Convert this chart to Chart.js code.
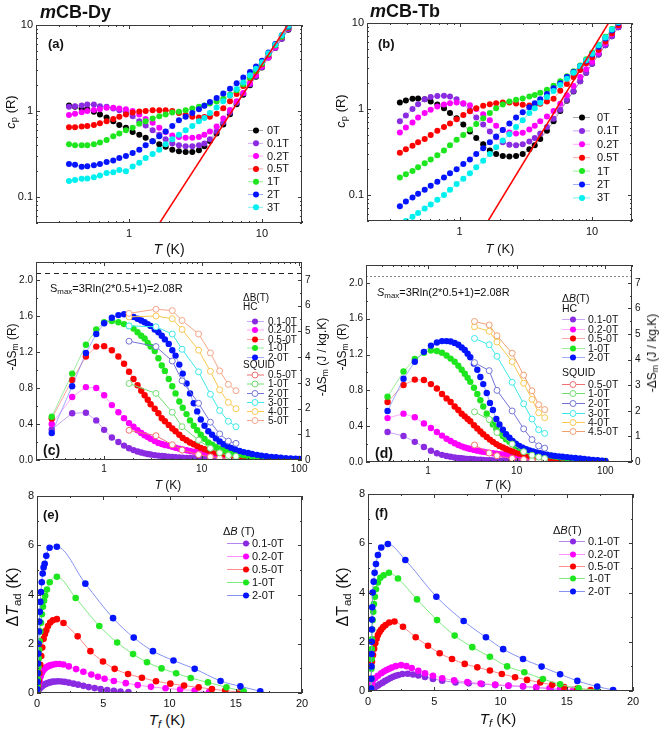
<!DOCTYPE html>
<html>
<head>
<meta charset="utf-8">
<script src="https://cdn.jsdelivr.net/npm/chart.js@4.4.1/dist/chart.umd.min.js"></script>
<style>
  body { margin: 0; background: #fff; width: 661px; height: 731px; position: relative; overflow: hidden;
         font-family: "Liberation Sans", Arial, sans-serif; color: #111; }
  canvas { position: absolute; }
  .t { position: absolute; white-space: nowrap; line-height: 1; }
  .c { transform: translate(-50%, -50%); }
  .r { transform: translate(-50%, -50%) rotate(-90deg); }
  sub { font-size: 72%; vertical-align: -0.28em; line-height: 0; }
  .ttl { font-size: 18px; font-weight: bold; }
  .lab { font-weight: bold; font-size: 13px; }
</style>
</head>
<body>
<canvas id="pa" width="330" height="240" style="left:0;top:0"></canvas>
<canvas id="pb" width="331" height="240" style="left:330px;top:0"></canvas>
<canvas id="pc" width="330" height="235" style="left:0;top:240px"></canvas>
<canvas id="pd" width="331" height="235" style="left:330px;top:240px"></canvas>
<canvas id="pe" width="330" height="235" style="left:0;top:475px"></canvas>
<canvas id="pf" width="331" height="235" style="left:330px;top:475px"></canvas>

<div class="t ttl" style="left:40px;top:3px"><i>m</i>CB-Dy</div>
<div class="t ttl" style="left:370px;top:2px"><i>m</i>CB-Tb</div>

<div class="t lab" style="left:48px;top:37px">(a)</div>
<div class="t lab" style="left:378px;top:37px">(b)</div>
<div class="t lab" style="left:43px;top:443px;font-size:14px">(c)</div>
<div class="t lab" style="left:375px;top:446px;font-size:14px">(d)</div>
<div class="t lab" style="left:43px;top:508px">(e)</div>
<div class="t lab" style="left:375px;top:506px">(f)</div>

<div class="t r" style="left:10px;top:112px;font-size:13px"><i>c</i><sub>p</sub> (R)</div>
<div class="t c" style="left:169px;top:249px;font-size:14px"><i>T</i> (K)</div>
<div class="t r" style="left:340px;top:111px;font-size:13px"><i>c</i><sub>p</sub> (R)</div>
<div class="t c" style="left:500px;top:248px;font-size:13px"><i>T</i> (K)</div>

<div class="t r" style="left:12px;top:347px;font-size:12px">-ΔS<sub>m</sub> (R)</div>
<div class="t r" style="left:322px;top:357px;font-size:12px">-ΔS<sub>m</sub> (J / kg.K)</div>
<div class="t c" style="left:168px;top:485px;font-size:12px"><i>T</i> (K)</div>
<div class="t r" style="left:342px;top:347px;font-size:12px">-ΔS<sub>m</sub> (R)</div>
<div class="t r" style="left:652px;top:353px;font-size:12px">-ΔS<sub>m</sub> (J / kg.K)</div>
<div class="t c" style="left:498px;top:485px;font-size:12px"><i>T</i> (K)</div>

<div class="t" style="left:50px;top:283px;font-size:11px">S<sub>max</sub>=3Rln(2*0.5+1)=2.08R</div>
<div class="t" style="left:377px;top:287px;font-size:11px"><i>S</i><sub>max</sub>=3Rln(2*0.5+1)=2.08R</div>

<div class="t r" style="left:13px;top:597px;font-size:16px">Δ<i>T</i><sub>ad</sub> (K)</div>
<div class="t c" style="left:167px;top:719px;font-size:15px"><i>T</i><sub><i>f</i></sub> (K)</div>
<div class="t r" style="left:343px;top:597px;font-size:16px">ΔT<sub>ad</sub> (K)</div>
<div class="t c" style="left:498px;top:718px;font-size:15px"><i>T</i><sub><i>f</i></sub> (K)</div>

<script>
// ---- (a)/(b) heat capacity, shared temperature grid (K) ----
const tCp = [0.354, 0.393, 0.441, 0.486, 0.545, 0.605, 0.679, 0.762, 0.846, 0.949, 1.066, 1.196, 1.335, 1.506,
  1.691, 1.887, 2.117, 2.375, 2.668, 2.994, 3.36, 3.69, 4.06, 4.56, 5.12, 5.75, 6.45, 7.24, 8.13, 9.02, 10.0,
  11.2, 12.6, 14.1, 15.8];

const cpDy0T = [1.16, 1.12, 1.06, 1.04, 0.98, 0.91, 0.84, 0.76, 0.69, 0.64, 0.57, 0.53, 0.49, 0.445, 0.41, 0.385,
  0.355, 0.34, 0.335, 0.335, 0.35, 0.39, 0.45, 0.55, 0.70, 0.92, 1.2, 1.55, 2.0, 2.5, 3.2, 4.2, 5.4, 6.9, 8.8];
const cpDy01T = [1.12, 1.14, 1.16, 1.19, 1.19, 1.14, 1.12, 1.07, 1.02, 0.96, 0.87, 0.76, 0.68, 0.60, 0.53, 0.47,
  0.42, 0.40, 0.39, 0.39, 0.40, 0.42, 0.47, 0.58, 0.74, 0.96, 1.25, 1.6, 2.05, 2.55, 3.25, 4.2, 5.4, 6.9, 8.9];
const cpDy02T = [0.90, 0.93, 0.97, 1.0, 1.03, 1.05, 1.09, 1.09, 1.07, 1.05, 1.0, 0.91, 0.81, 0.73, 0.64, 0.57,
  0.52, 0.50, 0.49, 0.49, 0.50, 0.53, 0.58, 0.66, 0.82, 1.03, 1.3, 1.62, 2.1, 2.6, 3.3, 4.2, 5.5, 7.2, 9.2];
const cpDy05T = [0.65, 0.65, 0.66, 0.67, 0.69, 0.72, 0.76, 0.81, 0.86, 0.91, 0.96, 0.99, 1.0, 1.02, 1.02, 1.02,
  1.0, 0.95, 0.90, 0.86, 0.84, 0.85, 0.86, 0.93, 1.08, 1.3, 1.58, 1.95, 2.4, 2.9, 3.5, 4.5, 5.8, 7.3, 9.3];
const cpDy1T = [0.41, 0.40, 0.40, 0.40, 0.41, 0.43, 0.46, 0.51, 0.55, 0.60, 0.64, 0.71, 0.76, 0.82, 0.87, 0.91,
  0.96, 0.98, 1.02, 1.07, 1.12, 1.16, 1.22, 1.29, 1.39, 1.55, 1.75, 2.05, 2.46, 2.9, 3.55, 4.6, 5.8, 7.3, 9.4];
const cpDy2T = [0.243, 0.237, 0.226, 0.228, 0.235, 0.243, 0.255, 0.267, 0.284, 0.30, 0.325, 0.355, 0.40, 0.445,
  0.51, 0.58, 0.67, 0.78, 0.86, 0.95, 1.05, 1.15, 1.27, 1.42, 1.6, 1.82, 2.1, 2.45, 2.85, 3.3, 3.85, 4.8, 6.0, 7.6, 9.6];
const cpDy3T = [0.154, 0.158, 0.163, 0.165, 0.17, 0.178, 0.19, 0.195, 0.207, 0.20, 0.227, 0.25, 0.284, 0.316,
  0.355, 0.41, 0.47, 0.53, 0.60, 0.67, 0.76, 0.83, 0.95, 1.1, 1.3, 1.52, 1.8, 2.15, 2.6, 3.1, 3.7, 4.7, 5.9, 7.6, 9.8];

const cpTb0T = [1.19, 1.26, 1.32, 1.33, 1.30, 1.22, 1.13, 1.02, 0.90, 0.78, 0.66, 0.55, 0.46, 0.39, 0.33, 0.30,
  0.285, 0.28, 0.285, 0.30, 0.34, 0.38, 0.45, 0.56, 0.72, 0.95, 1.25, 1.6, 2.1, 2.65, 3.35, 4.3, 5.5, 7.0, 8.9];
const cpTb01T = [0.72, 0.84, 1.0, 1.14, 1.30, 1.38, 1.42, 1.43, 1.40, 1.30, 1.15, 0.97, 0.80, 0.66, 0.55, 0.47,
  0.41, 0.385, 0.38, 0.39, 0.42, 0.46, 0.52, 0.62, 0.77, 0.98, 1.27, 1.62, 2.1, 2.65, 3.35, 4.3, 5.5, 7.0, 8.9];
const cpTb02T = [0.535, 0.61, 0.70, 0.80, 0.90, 0.98, 1.07, 1.13, 1.17, 1.19, 1.17, 1.11, 1.0, 0.87, 0.74, 0.64,
  0.57, 0.535, 0.52, 0.53, 0.58, 0.64, 0.72, 0.82, 0.95, 1.15, 1.45, 1.85, 2.35, 2.9, 3.55, 4.5, 5.8, 7.4, 9.3];
const cpTb05T = [0.31, 0.34, 0.375, 0.41, 0.45, 0.50, 0.56, 0.62, 0.68, 0.76, 0.85, 0.94, 1.02, 1.09, 1.14, 1.17,
  1.19, 1.19, 1.16, 1.12, 1.10, 1.12, 1.15, 1.22, 1.32, 1.63, 1.95, 2.35, 2.85, 3.4, 4.0, 4.9, 6.1, 7.6, 9.4];
const cpTb1T = [0.16, 0.175, 0.19, 0.21, 0.235, 0.26, 0.29, 0.33, 0.38, 0.44, 0.50, 0.58, 0.67, 0.78, 0.90, 1.02,
  1.13, 1.22, 1.28, 1.33, 1.40, 1.46, 1.55, 1.68, 1.87, 2.1, 2.4, 2.75, 3.2, 3.8, 4.5, 5.6, 6.9, 8.5, 10.3];
const cpTb2T = [0.074, 0.084, 0.094, 0.104, 0.115, 0.128, 0.143, 0.16, 0.18, 0.20, 0.23, 0.26, 0.30, 0.35, 0.41,
  0.48, 0.57, 0.68, 0.80, 0.92, 1.05, 1.17, 1.30, 1.5, 1.75, 2.0, 2.35, 2.7, 3.15, 3.65, 4.3, 5.3, 6.6, 8.2, 10.0];
const cpTb3T = [0.045, 0.05, 0.056, 0.062, 0.07, 0.078, 0.088, 0.10, 0.115, 0.135, 0.155, 0.18, 0.21, 0.25, 0.30,
  0.36, 0.43, 0.51, 0.62, 0.74, 0.9, 1.02, 1.18, 1.38, 1.62, 1.9, 2.25, 2.65, 3.15, 3.7, 4.4, 5.5, 6.8, 8.4, 10.2];

// lattice contribution c_L (end points of the straight line on log-log axes)
const tLatDy = [1.7, 15.8];
const cLatDy = [0.05, 10.3];
const tLatTb = [1.64, 13.3];
const cLatTb = [0.05, 10.0];

// ---- (c)/(d) entropy change from heat capacity ----
const tHcDy = [0.29, 0.47, 0.65, 0.83, 1.0, 1.2, 1.4, 1.6, 1.8, 2.0, 2.2, 2.4, 2.6, 2.8, 3.0, 3.3, 3.6, 3.9, 4.2,
  4.6, 5.0, 5.4, 5.9, 6.4, 7.0, 7.6, 8.3, 9.0, 9.8, 10.7, 11.7, 12.8, 14, 15.3, 16.8, 18.4, 20, 22, 24.5, 27, 30,
  33, 37, 41, 46, 52, 58, 65, 73, 82, 92, 100];
const dsDy01 = [0.34, 0.52, 0.525, 0.44, 0.335, 0.25, 0.20, 0.16, 0.13, 0.11, 0.095, 0.083, 0.074, 0.067, 0.061,
  0.054, 0.049, 0.045, 0.041, 0.037, 0.034, 0.031, 0.028, 0.026, 0.024, 0.022, 0.02, 0.018, 0.017, 0.015, 0.014,
  0.013, 0.012, 0.011, 0.01, 0.009, 0.008, 0.007, 0.006, 0.005, 0.005, 0.004, 0.004, 0.003, 0.003, 0.002, 0.002,
  0.002, 0.001, 0.001, 0.001, 0.001];
const dsDy02 = [0.40, 0.70, 0.81, 0.80, 0.72, 0.61, 0.53, 0.465, 0.41, 0.37, 0.33, 0.30, 0.275, 0.255, 0.235, 0.21,
  0.19, 0.178, 0.167, 0.157, 0.146, 0.136, 0.126, 0.117, 0.108, 0.10, 0.093, 0.087, 0.082, 0.077, 0.072, 0.068,
  0.065, 0.061, 0.058, 0.055, 0.052, 0.048, 0.043, 0.038, 0.033, 0.029, 0.025, 0.021, 0.018, 0.015, 0.012, 0.01,
  0.008, 0.006, 0.005, 0.004];
const dsDy05 = [0.46, 0.89, 1.15, 1.26, 1.265, 1.22, 1.15, 1.07, 0.98, 0.90, 0.83, 0.77, 0.72, 0.67, 0.62, 0.57,
  0.52, 0.465, 0.43, 0.39, 0.35, 0.32, 0.28, 0.245, 0.22, 0.195, 0.175, 0.155, 0.135, 0.12, 0.105, 0.093, 0.083,
  0.073, 0.065, 0.058, 0.052, 0.046, 0.04, 0.035, 0.03, 0.026, 0.022, 0.019, 0.016, 0.013, 0.011, 0.009, 0.007,
  0.006, 0.005, 0.004];
const dsDy1 = [0.48, 0.96, 1.28, 1.45, 1.53, 1.545, 1.53, 1.51, 1.49, 1.46, 1.42, 1.38, 1.35, 1.30, 1.26, 1.21,
  1.13, 1.05, 0.99, 0.90, 0.82, 0.74, 0.65, 0.58, 0.51, 0.44, 0.38, 0.33, 0.28, 0.235, 0.195, 0.17, 0.145, 0.125,
  0.11, 0.095, 0.083, 0.072, 0.06, 0.052, 0.044, 0.037, 0.031, 0.026, 0.021, 0.017, 0.014, 0.011, 0.009, 0.007,
  0.006, 0.005];
const dsDy2 = [0.30, 0.82, 1.19, 1.40, 1.52, 1.58, 1.61, 1.62, 1.61, 1.59, 1.57, 1.55, 1.53, 1.51, 1.49, 1.45,
  1.42, 1.38, 1.34, 1.29, 1.22, 1.16, 1.06, 0.96, 0.85, 0.74, 0.63, 0.54, 0.45, 0.38, 0.32, 0.28, 0.24, 0.205,
  0.175, 0.155, 0.135, 0.12, 0.10, 0.088, 0.077, 0.067, 0.057, 0.049, 0.042, 0.035, 0.03, 0.025, 0.021, 0.017,
  0.014, 0.012];

const tHcTb = [0.35, 0.53, 0.71, 0.90, 1.08, 1.26, 1.44, 1.62, 1.8, 2.0, 2.2, 2.4, 2.6, 2.8, 3.0, 3.3, 3.6, 3.9,
  4.2, 4.6, 5.0, 5.4, 5.9, 6.4, 7.0, 7.6, 8.3, 9.0, 9.8, 10.7, 11.7, 12.8, 14, 15.3, 16.8, 18.4, 20, 22, 24.5, 27,
  30, 33, 37, 41, 46, 52, 58, 65, 73, 82, 92, 100];
const dsTb01 = [0.335, 0.29, 0.225, 0.168, 0.125, 0.098, 0.08, 0.067, 0.058, 0.051, 0.046, 0.042, 0.038, 0.035,
  0.033, 0.03, 0.027, 0.025, 0.023, 0.021, 0.019, 0.018, 0.016, 0.015, 0.014, 0.013, 0.012, 0.011, 0.01, 0.009,
  0.009, 0.008, 0.007, 0.007, 0.006, 0.006, 0.005, 0.005, 0.004, 0.004, 0.003, 0.003, 0.003, 0.002, 0.002, 0.002,
  0.002, 0.001, 0.001, 0.001, 0.001, 0.001];
const dsTb02 = [0.49, 0.54, 0.50, 0.43, 0.38, 0.335, 0.295, 0.26, 0.235, 0.21, 0.19, 0.175, 0.163, 0.153, 0.145,
  0.135, 0.127, 0.12, 0.114, 0.108, 0.102, 0.097, 0.092, 0.088, 0.083, 0.079, 0.075, 0.071, 0.067, 0.064, 0.06,
  0.057, 0.054, 0.051, 0.048, 0.045, 0.042, 0.039, 0.035, 0.032, 0.028, 0.025, 0.022, 0.019, 0.016, 0.014, 0.012,
  0.01, 0.008, 0.007, 0.006, 0.005];
const dsTb05 = [0.67, 0.86, 0.92, 0.915, 0.87, 0.82, 0.76, 0.71, 0.67, 0.62, 0.58, 0.54, 0.51, 0.48, 0.455, 0.41,
  0.375, 0.34, 0.31, 0.28, 0.25, 0.225, 0.20, 0.18, 0.162, 0.146, 0.13, 0.117, 0.105, 0.095, 0.086, 0.078, 0.071,
  0.065, 0.059, 0.054, 0.049, 0.045, 0.04, 0.036, 0.032, 0.028, 0.025, 0.022, 0.019, 0.016, 0.014, 0.012, 0.01,
  0.008, 0.007, 0.006];
const dsTb1 = [0.73, 1.01, 1.15, 1.22, 1.245, 1.24, 1.22, 1.19, 1.155, 1.12, 1.075, 1.03, 0.985, 0.94, 0.895,
  0.83, 0.76, 0.69, 0.62, 0.54, 0.47, 0.42, 0.37, 0.33, 0.29, 0.255, 0.225, 0.2, 0.18, 0.16, 0.143, 0.13, 0.118,
  0.107, 0.098, 0.09, 0.083, 0.076, 0.069, 0.062, 0.055, 0.049, 0.043, 0.038, 0.033, 0.028, 0.024, 0.02, 0.017,
  0.014, 0.012, 0.01];
const dsTb2 = [0.57, 0.93, 1.12, 1.23, 1.30, 1.335, 1.35, 1.35, 1.345, 1.33, 1.31, 1.28, 1.25, 1.21, 1.17, 1.10,
  1.03, 0.95, 0.87, 0.77, 0.66, 0.58, 0.48, 0.42, 0.36, 0.31, 0.27, 0.235, 0.205, 0.18, 0.16, 0.143, 0.13, 0.117,
  0.106, 0.097, 0.089, 0.081, 0.074, 0.068, 0.063, 0.059, 0.054, 0.049, 0.044, 0.039, 0.034, 0.029, 0.024, 0.019,
  0.015, 0.012];

// ---- (c)/(d) entropy change from magnetisation (SQUID) ----
const tSqDy = [1.8, 3.4, 5.0, 6.3, 9.3, 12.3, 15.3, 18.8, 22.5];
const sqDy05 = [0.33, 0.27, 0.17, 0.11, 0.06, 0.035, 0.02, 0.015, 0.01];
const sqDy1 = [0.85, 0.74, 0.53, 0.37, 0.22, 0.13, 0.08, 0.05, 0.04];
const sqDy2 = [1.32, 1.26, 1.10, 0.88, 0.63, 0.42, 0.29, 0.21, 0.185];
const sqDy3 = [1.49, 1.48, 1.40, 1.23, 0.98, 0.73, 0.55, 0.43, 0.37];
const sqDy4 = [1.59, 1.60, 1.57, 1.45, 1.22, 0.985, 0.78, 0.64, 0.57];
const sqDy5 = [1.63, 1.675, 1.66, 1.55, 1.40, 1.19, 0.99, 0.84, 0.77];

const tSqTb = [3.35, 4.9, 6.0, 8.9, 12.0, 14.9, 17.7, 20.7];
const sqTb05 = [0.19, 0.10, 0.07, 0.04, 0.027, 0.02, 0.015, 0.012];
const sqTb1 = [0.56, 0.475, 0.33, 0.20, 0.115, 0.075, 0.055, 0.04];
const sqTb2 = [1.11, 1.02, 0.80, 0.57, 0.37, 0.25, 0.18, 0.155];
const sqTb3 = [1.38, 1.31, 1.18, 0.89, 0.65, 0.48, 0.36, 0.32];
const sqTb4 = [1.51, 1.46, 1.34, 1.12, 0.88, 0.70, 0.55, 0.495];
const sqTb45 = [1.57, 1.53, 1.41, 1.215, 0.97, 0.795, 0.64, 0.585];

const SMAX = 2.08;          // 3R ln(2*0.5+1) in units of R
const R_TO_JKGK = 3.5;      // right-axis factor, J/kg.K per R

// ---- (e)/(f) adiabatic temperature change vs final temperature ----
const tfE01 = [0.05, 0.12, 0.2, 0.3, 0.4, 0.5, 0.62, 0.75, 0.9, 1.05, 1.2, 1.4, 1.6, 1.85, 2.1, 2.4, 2.75, 3.1,
  3.5, 3.9, 4.35, 4.8, 5.3, 5.8, 6.3, 6.9];
const dtE01 = [0.05, 0.12, 0.18, 0.23, 0.28, 0.32, 0.36, 0.39, 0.42, 0.44, 0.46, 0.47, 0.475, 0.47, 0.45, 0.42,
  0.38, 0.34, 0.29, 0.24, 0.2, 0.16, 0.12, 0.09, 0.06, 0.04];
const tfE02 = [0.05, 0.12, 0.2, 0.28, 0.38, 0.48, 0.6, 0.75, 0.9, 1.05, 1.25, 1.45, 1.7, 2.0, 2.4, 2.95, 3.5, 4.1,
  4.6, 5.1, 5.8, 6.7, 7.6, 8.6, 9.7, 10.8, 11.9, 13.0];
const dtE02 = [0.1, 0.3, 0.5, 0.68, 0.82, 0.92, 1.0, 1.06, 1.1, 1.13, 1.16, 1.18, 1.18, 1.16, 1.08, 0.97, 0.86,
  0.75, 0.66, 0.58, 0.49, 0.40, 0.32, 0.25, 0.19, 0.14, 0.10, 0.05];
const tfE05 = [0.02, 0.05, 0.08, 0.12, 0.17, 0.25, 0.32, 0.4, 0.5, 0.6, 0.7, 0.83, 1.0, 1.2, 1.5, 2.0, 3.07, 4.03,
  4.98, 5.86, 6.87, 7.92, 8.98, 10.06, 11.1, 12.2, 13.2, 14.2, 15.3];
const dtE05 = [0.05, 0.15, 0.3, 0.5, 0.8, 1.15, 1.5, 1.85, 2.2, 2.4, 2.55, 2.72, 2.86, 2.95, 3.0, 2.84, 2.30, 1.70,
  1.28, 0.98, 0.77, 0.62, 0.48, 0.38, 0.30, 0.23, 0.16, 0.095, 0.04];
const tfE1 = [0.02, 0.04, 0.06, 0.08, 0.1, 0.13, 0.16, 0.2, 0.25, 0.3, 0.37, 0.45, 0.53, 0.62, 0.75, 0.96, 1.5,
  2.92, 4.7, 6.05, 7.25, 8.3, 9.4, 10.5, 11.6, 12.9, 14.3, 15.6];
const dtE1 = [0.1, 0.3, 0.55, 0.8, 1.05, 1.4, 1.75, 2.1, 2.5, 2.85, 3.2, 3.5, 3.75, 3.95, 4.2, 4.5, 4.72, 3.86,
  2.72, 2.05, 1.58, 1.25, 1.0, 0.8, 0.61, 0.43, 0.23, 0.07];
const tfE2 = [0.02, 0.04, 0.06, 0.08, 0.1, 0.12, 0.15, 0.18, 0.21, 0.25, 0.3, 0.36, 0.43, 0.5, 0.58, 0.7, 0.95,
  1.5, 3.65, 5.74, 7.3, 8.75, 10.3, 11.9, 13.85, 15.35, 16.85];
const dtE2 = [0.15, 0.45, 0.8, 1.2, 1.6, 2.0, 2.5, 2.9, 3.3, 3.7, 4.1, 4.5, 4.85, 5.1, 5.25, 5.57, 5.9, 5.94, 4.44,
  3.04, 2.25, 1.70, 1.32, 0.98, 0.49, 0.27, 0.07];

const tfF01 = [0.3, 0.38, 0.55, 0.75, 0.9, 1.1, 1.3, 1.5, 1.7, 1.9, 2.1, 2.3, 2.6, 3.0, 3.4, 3.8, 4.3, 4.9, 5.6,
  6.6, 7.6, 8.6, 9.6, 10.6, 11.7, 12.7, 13.8, 14.8];
const dtF01 = [0.04, 0.11, 0.16, 0.22, 0.28, 0.34, 0.41, 0.47, 0.53, 0.58, 0.62, 0.65, 0.69, 0.70, 0.67, 0.63,
  0.57, 0.49, 0.42, 0.35, 0.31, 0.28, 0.24, 0.21, 0.18, 0.14, 0.09, 0.05];
const tfF02 = [0.3, 0.32, 0.38, 0.55, 0.75, 1.0, 1.2, 1.4, 1.6, 1.8, 2.1, 2.5, 2.9, 3.3, 3.8, 4.3, 4.9, 5.6, 6.5,
  7.5, 8.5, 9.6, 10.6, 11.7, 12.7, 13.7, 14.5, 15.5];
const dtF02 = [0.1, 0.3, 0.45, 0.53, 0.62, 0.72, 0.79, 0.85, 0.9, 0.95, 1.01, 1.05, 1.01, 0.93, 0.82, 0.72, 0.62,
  0.52, 0.43, 0.36, 0.30, 0.26, 0.22, 0.19, 0.15, 0.11, 0.08, 0.05];
const tfF05 = [0.2, 0.22, 0.25, 0.3, 0.38, 0.46, 0.55, 0.65, 0.75, 0.87, 1.0, 1.15, 1.33, 1.6, 2.0, 2.64, 3.6,
  4.53, 5.41, 6.34, 7.3, 8.25, 9.2, 10.1, 11.1, 12.0, 13.0, 13.9, 14.8, 15.8, 16.8];
const dtF05 = [0.1, 0.5, 0.99, 1.2, 1.46, 1.72, 1.94, 2.12, 2.27, 2.4, 2.5, 2.6, 2.68, 2.78, 2.82, 2.61, 2.18,
  1.84, 1.53, 1.30, 1.10, 0.96, 0.83, 0.69, 0.56, 0.45, 0.35, 0.25, 0.16, 0.1, 0.04];
const tfF1 = [0.24, 0.25, 0.26, 0.27, 0.28, 0.3, 0.32, 0.35, 0.4, 0.45, 0.52, 0.6, 0.75, 0.93, 1.18, 1.58, 2.26,
  3.7, 5.21, 6.54, 7.87, 9.2, 10.5, 11.8, 13.2, 14.5, 15.9, 17.3];
const dtF1 = [0.1, 0.5, 0.9, 1.3, 1.7, 2.1, 2.5, 2.88, 3.22, 3.53, 3.83, 4.13, 4.41, 4.6, 4.7, 4.8, 4.57, 3.72,
  2.88, 2.25, 1.78, 1.39, 1.0, 0.76, 0.49, 0.27, 0.11, 0.03];
const tfF2 = [0.24, 0.25, 0.26, 0.27, 0.28, 0.29, 0.3, 0.32, 0.35, 0.43, 0.5, 0.6, 0.75, 1.0, 1.5, 2.82, 5.16,
  7.22, 8.9, 10.2, 11.7, 13.1, 14.5, 15.8, 17.3, 18.5];
const dtF2 = [0.1, 0.5, 1.0, 1.5, 2.0, 2.5, 2.9, 3.4, 4.0, 4.44, 4.8, 5.16, 5.52, 5.83, 5.97, 5.32, 3.83, 2.84,
  2.18, 1.70, 1.30, 0.99, 0.68, 0.41, 0.18, 0.04];

// ---- styling ----
const FONT = '"Liberation Sans", Arial, sans-serif';
Chart.defaults.font.family = FONT;
Chart.defaults.color = '#111';

const COL = { k: '#000000', v: '#8a2be2', m: '#ff00ff', r: '#ff0000', g: '#1ee61e', b: '#0414ff', c: '#00f0f0' };
const LINE = {
  k: 'rgba(0,0,0,0.35)', v: 'rgba(150,80,230,0.5)', m: 'rgba(255,90,255,0.5)', r: 'rgba(255,80,80,0.5)',
  g: 'rgba(60,220,60,0.5)', b: 'rgba(70,90,255,0.5)', c: 'rgba(0,220,230,0.5)'
};
const LINE_TAD = {
  v: 'rgba(175,120,235,0.9)', m: 'rgba(255,130,255,0.9)', r: 'rgba(255,125,125,0.9)',
  g: 'rgba(120,235,120,0.95)', b: 'rgba(120,135,240,0.9)'
};
const SQ = { s05: '#f07070', s1: '#70dc70', s2: '#7474d8', s3: '#3ce8e8', s4: '#f8c850', s5: '#f4a488', s45: '#f0a070' };

const pts = (xs, ys) => xs.map((x, i) => ({ x, y: ys[i] }));

function dotSet(label, col, line, xs, ys, order, extra) {
  return Object.assign({
    label, data: pts(xs, ys), order,
    borderColor: line, borderWidth: 1, tension: 0, fill: false,
    pointRadius: 3.2, pointHoverRadius: 3.2, pointHitRadius: 0,
    pointBackgroundColor: col, pointBorderColor: col, pointBorderWidth: 0
  }, extra || {});
}
function openSet(label, col, xs, ys, order) {
  return dotSet(label, '#ffffff', col, xs, ys, order, { pointBorderColor: col, pointBorderWidth: 1, pointRadius: 3 });
}
function lineSet(xs, ys, col, w) {
  return { label: '', data: pts(xs, ys), borderColor: col, borderWidth: w, pointRadius: 0, order: -1, tension: 0 };
}

const decade = v => {
  const l = Math.log10(v);
  return Math.abs(l - Math.round(l)) < 1e-6 ? String(+v.toPrecision(2)) : '';
};
const stepLabel = (step, digits) => v => {
  const q = v / step;
  return Math.abs(q - Math.round(q)) < 1e-6 ? v.toFixed(digits) : '';
};

function axis(type, min, max, fit, tick, extra) {
  return Object.assign({
    type, min, max,
    grid: { display: false, drawTicks: false },
    border: { display: false },
    ticks: Object.assign({ autoSkip: false, maxRotation: 0, padding: 3, color: '#111', font: { size: 11 } }, tick),
    afterFit: fit
  }, extra || {});
}

// per-panel frame, tick marks and key layout (page coordinates)
const panel = {};

function tickMarks(sc, minor) {
  const out = [];
  if (sc.type === 'logarithmic') {
    const e0 = Math.floor(Math.log10(sc.min)), e1 = Math.ceil(Math.log10(sc.max));
    for (let e = e0; e <= e1; e++)
      for (let k = 1; k <= 9; k++) out.push({ v: k * Math.pow(10, e), major: k === 1 });
  } else {
    const step = sc.options.ticks.stepSize;
    const n = Math.round((sc.max - sc.min) / minor);
    for (let i = 0; i <= n; i++) {
      const v = sc.min + i * minor, q = v / step;
      out.push({ v, major: Math.abs(q - Math.round(q)) < 1e-6 });
    }
  }
  return out.filter(t => t.v >= sc.min * 0.9999 - 1e-9 && t.v <= sc.max * 1.0001 + 1e-9);
}

const framePlugin = {
  id: 'frame',
  beforeDatasetsDraw(chart) {
    const p = panel[chart.canvas.id];
    if (!p || p.hline == null) return;
    const { ctx, chartArea: a, scales } = chart;
    const y = Math.round(scales.y.getPixelForValue(p.hline)) + 0.5;
    ctx.save();
    ctx.strokeStyle = p.hcolor; ctx.lineWidth = 1; ctx.setLineDash(p.hdash);
    ctx.beginPath(); ctx.moveTo(a.left, y); ctx.lineTo(a.right, y); ctx.stroke();
    ctx.restore();
  },
  afterDatasetsDraw(chart) {
    const p = panel[chart.canvas.id] || {};
    const { ctx, chartArea: a, scales } = chart;
    ctx.save();
    ctx.strokeStyle = '#3a3a3a'; ctx.lineWidth = 1;
    ctx.strokeRect(a.left + 0.5, a.top + 0.5, a.width - 1, a.height - 1);
    const seg = (x0, y0, x1, y1) => { ctx.beginPath(); ctx.moveTo(x0, y0); ctx.lineTo(x1, y1); ctx.stroke(); };
    tickMarks(scales.x, p.xMinor).forEach(t => {
      const x = Math.round(scales.x.getPixelForValue(t.v)) + 0.5, l = t.major ? 4 : 2;
      seg(x, a.bottom, x, a.bottom - l); seg(x, a.top, x, a.top + l);
    });
    tickMarks(scales.y, p.yMinor).forEach(t => {
      const y = Math.round(scales.y.getPixelForValue(t.v)) + 0.5, l = t.major ? 4 : 2;
      seg(a.left, y, a.left + l, y);
      if (!scales.y2) seg(a.right, y, a.right - l, y);
    });
    if (scales.y2) tickMarks(scales.y2, p.y2Minor).forEach(t => {
      const y = Math.round(scales.y2.getPixelForValue(t.v)) + 0.5, l = t.major ? 4 : 2;
      seg(a.right, y, a.right - l, y);
    });
    ctx.restore();
  }
};

const keyPlugin = {
  id: 'key',
  afterDraw(chart) {
    const p = panel[chart.canvas.id];
    if (!p || !p.key) return;
    const k = p.key, ctx = chart.ctx;
    ctx.save();
    ctx.textBaseline = 'middle';
    k.rows.forEach(r => {
      const y = r.y - p.oy;
      if (r.head) {
        let x = k.hx - p.ox;
        r.head.forEach(([s, it]) => {
          ctx.font = (it ? 'italic ' : '') + k.size + 'px ' + FONT;
          ctx.fillStyle = '#111'; ctx.fillText(s, x, y);
          x += ctx.measureText(s).width;
        });
        return;
      }
      const ds = chart.data.datasets[r.ds];
      ctx.strokeStyle = ds.borderColor; ctx.lineWidth = 1;
      ctx.beginPath(); ctx.moveTo(k.x0 - p.ox, y + 0.5); ctx.lineTo(k.x1 - p.ox, y + 0.5); ctx.stroke();
      ctx.beginPath(); ctx.arc(k.mx - p.ox, y + 0.5, 3, 0, Math.PI * 2);
      ctx.fillStyle = ds.pointBackgroundColor; ctx.fill();
      if (ds.pointBorderWidth) { ctx.strokeStyle = ds.pointBorderColor; ctx.lineWidth = 1; ctx.stroke(); }
      ctx.font = k.size + 'px ' + FONT;
      ctx.fillStyle = '#111'; ctx.fillText(ds.label, k.tx - p.ox, y + 1);
    });
    ctx.restore();
  }
};

function build(id, datasets, scales, pad) {
  return new Chart(document.getElementById(id), {
    type: 'line',
    data: { datasets },
    options: {
      responsive: false, animation: false, events: [],
      layout: { padding: pad },
      plugins: { legend: { display: false }, tooltip: { enabled: false } },
      scales
    },
    plugins: [framePlugin, keyPlugin]
  });
}

// ---------- (a)/(b) heat capacity ----------
const cpNames = ['0T', '0.1T', '0.2T', '0.5T', '1T', '2T', '3T'];
const cpKeys = ['k', 'v', 'm', 'r', 'g', 'b', 'c'];
function cpSets(series, tLat, cLat) {
  const sets = series.map((ys, i) => dotSet(cpNames[i], COL[cpKeys[i]], LINE[cpKeys[i]], tCp, ys, 10 - i,
    { pointRadius: 3 }));
  sets.push(lineSet(tLat, cLat, '#ff0000', 1.5));
  return sets;
}
const cpScales = (yw, xh) => ({
  x: axis('logarithmic', 0.2, 20, s => { s.height = xh; }, { callback: decade, padding: 4 }),
  y: axis('logarithmic', 0.05, 10, s => { s.width = yw; }, { callback: decade })
});

panel.pa = { ox: 0, oy: 0, key: { size: 11, x0: 248, x1: 263, mx: 256, tx: 267,
  rows: cpNames.map((n, i) => ({ ds: i, y: 130 + 12.8 * i })) } };
build('pa', cpSets([cpDy0T, cpDy01T, cpDy02T, cpDy05T, cpDy1T, cpDy2T, cpDy3T], tLatDy, cLatDy),
  cpScales(36, 17), { top: 25, right: 28, left: 0, bottom: 0 });

panel.pb = { ox: 330, oy: 0, key: { size: 11, x0: 573, x1: 590, mx: 582, tx: 597,
  rows: cpNames.map((n, i) => ({ ds: i, y: 117 + 13.4 * i })) } };
build('pb', cpSets([cpTb0T, cpTb01T, cpTb02T, cpTb05T, cpTb1T, cpTb2T, cpTb3T], tLatTb, cLatTb),
  cpScales(37, 19), { top: 23, right: 29, left: 0, bottom: 0 });

// ---------- (c)/(d) entropy change ----------
const hcNames = ['0.1-0T', '0.2-0T', '0.5-0T', '1-0T', '2-0T'];
const hcKeys = ['v', 'm', 'r', 'g', 'b'];
function dsSets(tHc, hc, tSq, sq, sqNames, sqCols) {
  const sets = hc.map((ys, i) => dotSet(hcNames[i], COL[hcKeys[i]], LINE[hcKeys[i]], tHc, ys, 10 - i));
  sq.forEach((ys, i) => sets.push(openSet(sqNames[i], sqCols[i], tSq, ys, 5 - i)));
  return sets;
}
const dsScales = (xmax, yw, y2w, xh) => ({
  x: axis('logarithmic', 0.2, xmax, s => { s.height = xh; }, { callback: decade, padding: 3, font: { size: 10 } }),
  y: axis('linear', 0, 2.2, s => { s.width = yw; }, { stepSize: 0.4, callback: stepLabel(0.4, 1), font: { size: 10 } }),
  y2: axis('linear', 0, 2.2 * R_TO_JKGK, s => { s.width = y2w; },
    { stepSize: 1, callback: stepLabel(1, 0), font: { size: 10 } }, { position: 'right' })
});
const keyRows = (ys, bItalic) => {
  const rows = [{ head: [['Δ', 0], ['B', bItalic], ['(T)', 0]], y: ys[0] }, { head: [['HC', 0]], y: ys[1] }];
  for (let i = 0; i < 5; i++) rows.push({ ds: i, y: ys[2 + i] });
  rows.push({ head: [['SQUID', 0]], y: ys[7] });
  for (let i = 0; i < 6; i++) rows.push({ ds: 5 + i, y: ys[8 + i] });
  return rows;
};

panel.pc = { ox: 0, oy: 240, hline: SMAX, hcolor: '#222', hdash: [5, 4], xMinor: null, yMinor: 0.2, y2Minor: 0.5,
  key: { size: 10, hx: 243, x0: 247, x1: 264, mx: 255, tx: 268,
    rows: keyRows([298, 307, 321, 329.5, 339, 347.5, 357, 365.5, 374.5, 383.5, 393, 402, 411, 420], 0) } };
build('pc', dsSets(tHcDy, [dsDy01, dsDy02, dsDy05, dsDy1, dsDy2], tSqDy,
  [sqDy05, sqDy1, sqDy2, sqDy3, sqDy4, sqDy5], ['0.5-0T', '1-0T', '2-0T', '3-0T', '4-0T', '5-0T'],
  [SQ.s05, SQ.s1, SQ.s2, SQ.s3, SQ.s4, SQ.s5]),
  dsScales(107, 36, 28, 15), { top: 22, right: 0, left: 0, bottom: 0 });

panel.pd = { ox: 330, oy: 240, hline: SMAX, hcolor: '#888', hdash: [2, 2], xMinor: null, yMinor: 0.2, y2Minor: 0.5,
  key: { size: 10.5, hx: 562, x0: 562, x1: 585, mx: 573, tx: 588,
    rows: keyRows([299, 309, 319, 329, 338, 348, 357, 373, 384, 393, 403, 413, 422, 431], 1) } };
build('pd', dsSets(tHcTb, [dsTb01, dsTb02, dsTb05, dsTb1, dsTb2], tSqTb,
  [sqTb05, sqTb1, sqTb2, sqTb3, sqTb4, sqTb45], ['0.5-0T', '1-0T', '2-0T', '3-0T', '4-0T', '4.5-0T'],
  [SQ.s05, SQ.s1, SQ.s2, SQ.s3, SQ.s4, SQ.s45]),
  dsScales(200, 36, 29, 13), { top: 25, right: 0, left: 0, bottom: 0 });

// ---------- (e)/(f) adiabatic temperature change ----------
function tadSets(series) {
  return series.map(([xs, ys], i) => dotSet(hcNames[i], COL[hcKeys[i]], LINE_TAD[hcKeys[i]], xs, ys, 10 - i,
    { cubicInterpolationMode: 'monotone', pointRadius: 3.3 }));
}
const tadScales = (yw, xh) => ({
  x: axis('linear', 0, 20, s => { s.height = xh; }, { stepSize: 5, callback: stepLabel(5, 0), padding: 4 }),
  y: axis('linear', 0, 8, s => { s.width = yw; }, { stepSize: 2, callback: stepLabel(2, 0) })
});

panel.pe = { ox: 0, oy: 475, xMinor: 2.5, yMinor: 1,
  key: { size: 11, hx: 223, x0: 227, x1: 250, mx: 246, tx: 252,
    rows: [{ head: [['Δ', 0], ['B', 1], [' (T)', 0]], y: 532 }]
      .concat(hcNames.map((n, i) => ({ ds: i, y: [543, 556, 569, 582, 595][i] }))) } };
build('pe', tadSets([[tfE01, dtE01], [tfE02, dtE02], [tfE05, dtE05], [tfE1, dtE1], [tfE2, dtE2]]),
  tadScales(37, 17), { top: 21, right: 28, left: 0, bottom: 0 });

panel.pf = { ox: 330, oy: 475, xMinor: 2.5, yMinor: 1,
  key: { size: 11, hx: 553, x0: 559, x1: 585, mx: 573, tx: 588,
    rows: [{ head: [['Δ', 0], ['B', 1], ['(T)', 0]], y: 531 }]
      .concat(hcNames.map((n, i) => ({ ds: i, y: [541, 554, 566, 578, 591][i] }))) } };
build('pf', tadSets([[tfF01, dtF01], [tfF02, dtF02], [tfF05, dtF05], [tfF1, dtF1], [tfF2, dtF2]]),
  tadScales(38, 19), { top: 19, right: 28, left: 0, bottom: 0 });
</script>
</body>
</html>
